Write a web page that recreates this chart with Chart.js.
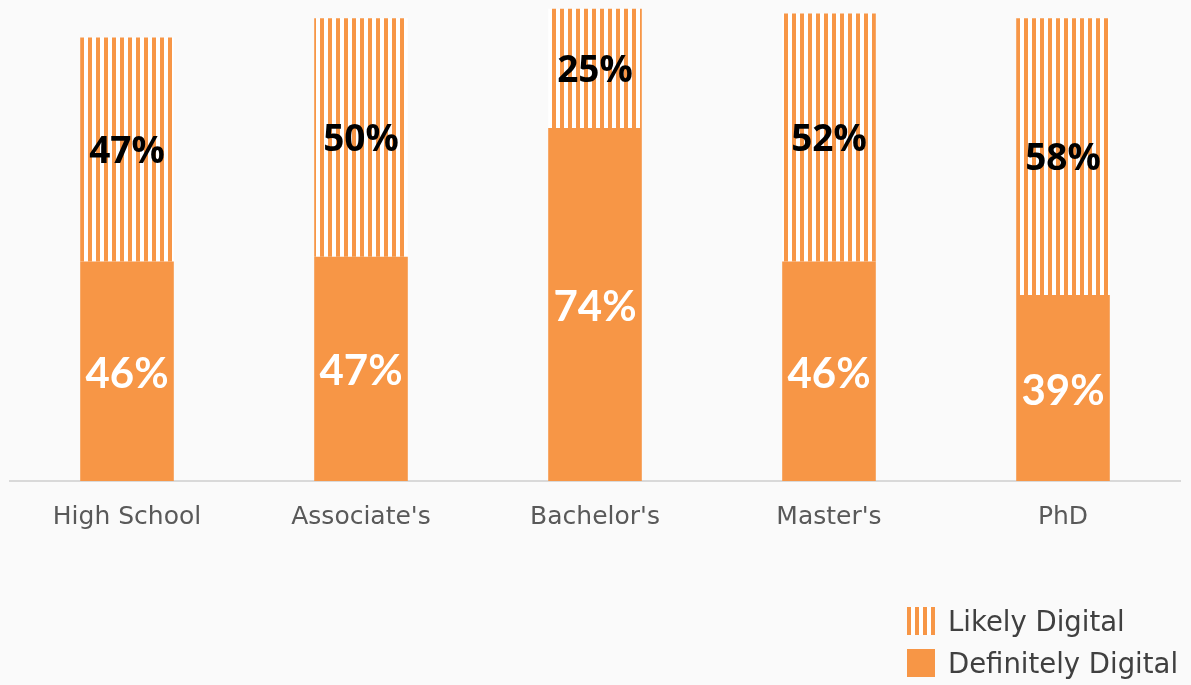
<!DOCTYPE html>
<html>
<head>
<meta charset="utf-8">
<script src="https://cdn.jsdelivr.net/npm/chart.js@4.4.1/dist/chart.umd.min.js"></script>
<style>
  html, body { margin: 0; padding: 0; background: #fafafa; }
  #wrap { position: relative; width: 1191px; height: 685px; }
  #legend { position: absolute; left: 907px; top: 603px; font-family: "DejaVu Sans", sans-serif; font-size: 27.5px; color: #404040; }
  .item { display: flex; align-items: center; height: 36px; margin-bottom: 6px; white-space: nowrap; }
  .box { width: 28px; height: 28px; margin-right: 13px; flex: none; }
  .striped { background: repeating-linear-gradient(90deg, #F79646 0px, #F79646 4px, #ffffff 4px, #ffffff 8px); }
  .solid { background: #F79646; }
</style>
</head>
<body>
<div id="wrap">
  <canvas id="chart" width="1191" height="685"></canvas>
  <div id="legend">
    <div class="item"><div class="box striped"></div>Likely Digital</div>
    <div class="item"><div class="box solid"></div>Definitely Digital</div>
  </div>
</div>
<script>
// data
const categories = ['High School', "Associate's", "Bachelor's", "Master's", 'PhD'];
const definitelyDigital = [46, 47, 74, 46, 39];
const likelyDigital = [47, 50, 25, 52, 58];

const orange = '#F79646';
const whiteFont = 'bold 42px Lato';
const blackFont = 'bold 37px "Open Sans"';

// vertical stripes for the "likely" bars
function stripes() {
  const c = document.createElement('canvas');
  c.width = 8; c.height = 8;
  const g = c.getContext('2d');
  g.fillStyle = '#ffffff';
  g.fillRect(0, 0, 8, 8);
  g.fillStyle = orange;
  g.fillRect(0, 0, 4, 8);
  return g.createPattern(c, 'repeat');
}

// labels in the middle of each bar piece
const barLabels = {
  id: 'barLabels',
  afterDatasetsDraw(chart) {
    const c = chart.ctx;
    chart.data.datasets.forEach((ds, i) => {
      const meta = chart.getDatasetMeta(i);
      meta.data.forEach((bar, j) => {
        const p = bar.getProps(['x', 'y', 'base'], true);
        c.save();
        c.textAlign = 'center';
        c.textBaseline = 'middle';
        c.fillStyle = i === 0 ? '#ffffff' : '#000000';
        c.font = i === 0 ? whiteFont : blackFont;
        c.fillText(ds.data[j] + '%', p.x, (p.y + p.base) / 2 + 3);
        c.restore();
      });
    });
  }
};

function draw() {
  const ctx = document.getElementById('chart').getContext('2d');
  new Chart(ctx, {
    type: 'bar',
    data: {
      labels: categories,
      datasets: [
        {
          label: 'Definitely Digital',
          data: definitelyDigital,
          backgroundColor: orange,
          borderWidth: 0,
          categoryPercentage: 1,
          barPercentage: 0.4
        },
        {
          label: 'Likely Digital',
          data: likelyDigital,
          backgroundColor: stripes(),
          borderWidth: 0,
          categoryPercentage: 1,
          barPercentage: 0.4
        }
      ]
    },
    options: {
      responsive: false,
      animation: false,
      layout: { padding: { left: 10, right: 11, top: 4, bottom: 140 } },
      plugins: {
        legend: { display: false },
        tooltip: { enabled: false }
      },
      scales: {
        x: {
          stacked: true,
          grid: { display: false },
          border: { display: true, color: '#d9d9d9', width: 2 },
          ticks: {
            color: '#595959',
            padding: 13,
            font: { family: '"DejaVu Sans"', size: 25 }
          }
        },
        y: {
          stacked: true,
          display: false,
          min: 0,
          max: 100
        }
      }
    },
    plugins: [barLabels]
  });
}

Promise.all([
  document.fonts.load(whiteFont, '0123456789%'),
  document.fonts.load(blackFont, '0123456789%'),
  document.fonts.load('25px "DejaVu Sans"', 'High School')
]).then(draw, draw);
</script>
</body>
</html>
